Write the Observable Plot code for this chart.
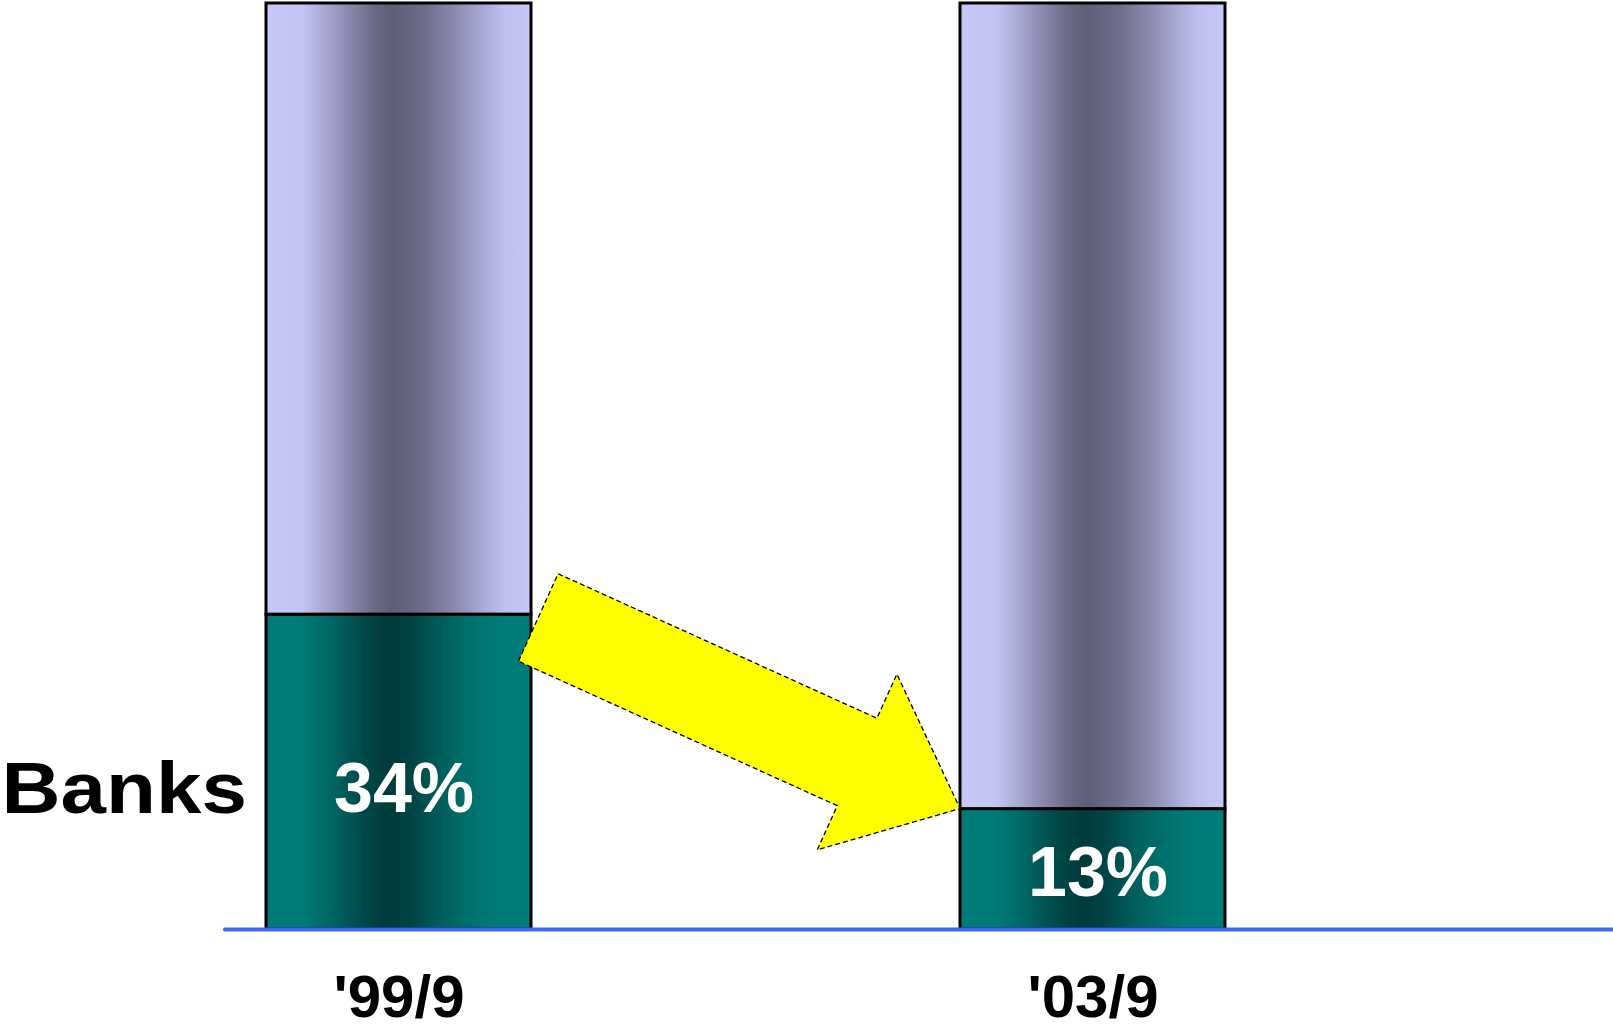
<!DOCTYPE html>
<html>
<head>
<meta charset="utf-8">
<script src="https://cdn.jsdelivr.net/npm/d3@7"></script>
<script src="https://cdn.jsdelivr.net/npm/@observablehq/plot@0.6"></script>
<style>
  html, body { margin: 0; padding: 0; background: #ffffff; }
  #chart svg { display: block; }
</style>
</head>
<body>
<div id="chart"></div>
<script>
// Share of banks, September 1999 vs September 2003
const periods = ["'99/9", "'03/9"];
const banks = [34, 13];          // percent held by banks
const others = [66, 87];         // remainder of the 100% bar
const segmentLabel = "Banks";

const rows = periods.map((p, i) => ({period: p, banks: banks[i], others: others[i]}));

// Gradient definitions for the cylinder-like bar shading
function gradients() {
  const defs = d3.create("svg:defs");
  const add = (id, stops) => {
    const g = defs.append("linearGradient").attr("id", id)
      .attr("x1", 0).attr("x2", 1).attr("y1", 0).attr("y2", 0);
    for (const [o, c] of stops) g.append("stop").attr("offset", o).attr("stop-color", c);
  };
  add("lavender", [
    [0, "#c8c8f8"], [0.14, "#c4c4f4"], [0.2, "#b0b0dc"], [0.3, "#8e8eb4"], [0.4, "#6c6c88"],
    [0.48, "#5e5e78"], [0.6, "#6e6e8c"], [0.7, "#8686aa"], [0.8, "#a4a4d0"], [0.9, "#c0c0f0"], [1, "#c8c8f8"]
  ]);
  add("teal", [
    [0, "#007d79"], [0.14, "#007a76"], [0.25, "#006662"], [0.35, "#004c4c"], [0.46, "#003a3a"],
    [0.55, "#004444"], [0.65, "#005c5a"], [0.75, "#006e6a"], [0.86, "#007a76"], [1, "#007d79"]
  ]);
  return defs.node();
}

// Block arrow from the top of the first banks segment to the top of the second
function shiftArrow(index, scales) {
  const x = scales.x, y = scales.y;
  const bw = typeof x.bandwidth === "function" ? x.bandwidth() : (x.bandwidth ?? 0);
  const tail0 = [x(rows[0].period) + bw, y(rows[0].banks)];
  const tip = [x(rows[1].period), y(rows[1].banks)];
  const dx = tip[0] - tail0[0], dy = tip[1] - tail0[1];
  const L0 = Math.hypot(dx, dy);
  const u = [dx / L0, dy / L0];
  const n = [-u[1], u[0]];
  const tail = [tail0[0] + u[0] * 8, tail0[1] + u[1] * 8];
  const L = L0 - 8;
  const w = 48, hw = 96.5, hl = 113;
  const at = (along, side) => [tail[0] + u[0] * along + n[0] * side, tail[1] + u[1] * along + n[1] * side];
  const pts = [
    at(0, w), at(0, -w), at(L - hl, -w), at(L - hl, -hw), tip, at(L - hl, hw), at(L - hl, w)
  ];
  const g = d3.create("svg:g");
  g.append("polygon")
    .attr("points", pts.map(p => p.join(",")).join(" "))
    .attr("fill", "#ffff00")
    .attr("stroke", "#000000")
    .attr("stroke-width", 1.3)
    .attr("stroke-dasharray", "5,3")
    .attr("stroke-linejoin", "miter");
  return g.node();
}

// Vertical position of the in-bar value labels (and the row label beside them)
const labelY = v => v * 0.43 + 0.5;

const chart = Plot.plot({
  width: 1613,
  height: 1028,
  marginTop: 3,
  marginBottom: 99,
  marginLeft: 225,
  marginRight: 0,
  style: {background: "#ffffff", overflow: "visible"},
  x: {domain: periods, range: [265, 1225], paddingInner: 0.6187, paddingOuter: 0, axis: null},
  y: {domain: [0, 100], axis: null},
  marks: [
    gradients,
    Plot.barY(rows, {x: "period", y1: 0, y2: "banks", fill: "url(#teal)", stroke: "#000000", strokeWidth: 3}),
    Plot.barY(rows, {x: "period", y1: "banks", y2: d => d.banks + d.others, fill: "url(#lavender)", stroke: "#000000", strokeWidth: 3}),
    Plot.ruleY([0], {stroke: "#3b68f2", strokeWidth: 4, strokeLinecap: "round"}),
    shiftArrow,
    Plot.text(rows, {
      x: "period", y: d => labelY(d.banks), text: d => `${d.banks}%`,
      fill: "#ffffff", fontSize: 70, fontWeight: "bold", fontFamily: "Liberation Sans, Arial, sans-serif", dx: 5
    }),
    Plot.text([segmentLabel], {
      frameAnchor: "left", y: () => labelY(banks[0]), text: d => d, textAnchor: "start", dx: -224,
      fill: "#000000", fontSize: 73, fontWeight: "bold", fontFamily: "Liberation Sans, Arial, sans-serif"
    }),
    Plot.text(periods, {
      x: d => d, frameAnchor: "bottom", lineAnchor: "top", dy: 45, text: d => d,
      fill: "#000000", fontSize: 60, fontWeight: "bold", fontFamily: "Liberation Sans, Arial, sans-serif"
    })
  ]
});

// The row label is set slightly wide: stretch it horizontally about its left edge
d3.select(chart).selectAll("text")
  .filter(function () { return this.textContent === segmentLabel; })
  .each(function () {
    const x0 = +(this.getAttribute("x") || 0);
    const t = this.getAttribute("transform") || "";
    this.setAttribute("transform", `${t} translate(${x0},0) scale(1.12,1) translate(${-x0},0)`);
  });

document.getElementById("chart").appendChild(chart);
</script>
</body>
</html>
